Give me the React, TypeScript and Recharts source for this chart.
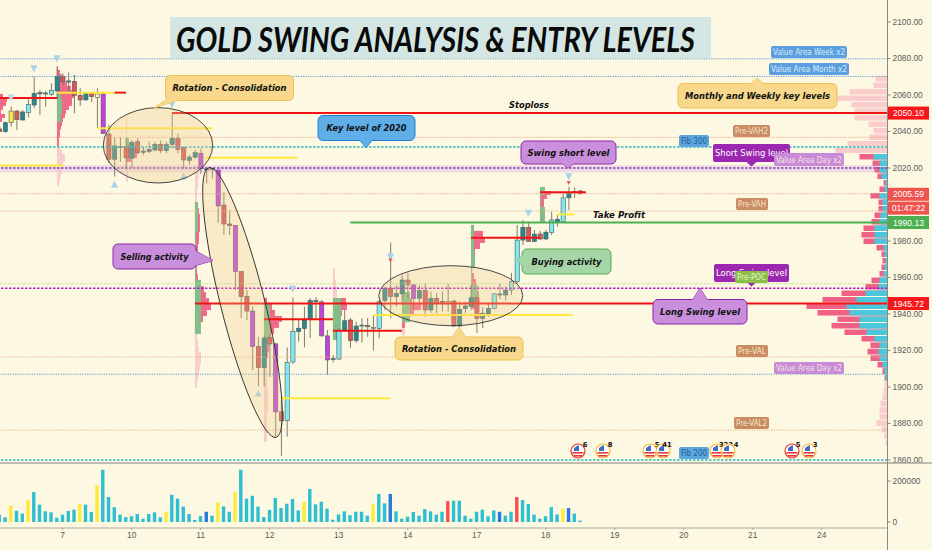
import React from "react";
import { ComposedChart, Bar, XAxis, YAxis, ReferenceLine, ReferenceArea, ReferenceDot } from "recharts";

const W = 932, TOP_H = 463, BOTTOM_H = 87, AXIS_W = 44.5;
const IDX_MIN = -0.904, IDX_MAX = 153.44, PRICE_MIN = 1858.34, PRICE_MAX = 2112.06;
const VOL_MIN = -29268, VOL_MAX = 287800;
const FONT = "'DejaVu Sans', sans-serif";
const AXIS_FONT = "'Liberation Sans', sans-serif";
const UNITS_PER_BAR = 5.75;

const highs = [2043.0,2045.4,2053.6,2051.8,2051.8,2057.6,2070.0,2062.7,2062.2,2066.4,2075.5,2071.9,2072.4,2071.0,2063.7,2061.8,2061.8,2063.7,2061.8,2043.6,2036.8,2036.8,2036.4,2035.3,2036.3,2031.7,2034.4,2034.4,2035.0,2034.4,2050.0,2039.0,2031.7,2027.1,2029.9,2030.8,2019.8,2019.8,2018.9,2006.7,1997.0,1988.8,1963.6,1953.1,1944.4,1927.6,1928.0,1928.5,1924.1,1892.9,1921.7,1949.1,1936.7,1944.0,1948.8,1949.1,1947.7,1931.2,1917.5,1932.2,1942.2,1937.8,1935.8,1937.6,1937.8,1938.9,1947.7,1955.0,1979.1,1955.9,1961.4,1962.5,1956.4,1955.9,1957.0,1952.2,1951.5,1952.2,1956.4,1947.7,1946.7,1946.7,1955.9,1949.5,1943.7,1946.0,1951.3,1956.8,1955.0,1962.5,1988.8,1991.5,1990.6,1986.0,1985.6,1986.0,1996.1,1994.2,2007.0,2009.7,2009.4,2008.0];
const bodyTops = [2041.4,2044.8,2051.2,2051.2,2050.7,2054.7,2060.9,2061.3,2061.1,2062.6,2070.2,2070.2,2067.7,2067.5,2059.8,2060.9,2060.9,2060.6,2060.6,2038.6,2032.1,2031.7,2031.7,2034.1,2034.4,2029.3,2030.2,2033.0,2033.0,2032.8,2036.3,2036.3,2031.3,2026.0,2028.4,2028.1,2019.5,2019.8,2018.9,1999.7,1989.3,1988.4,1963.2,1949.5,1941.6,1922.1,1926.8,1927.0,1923.6,1886.4,1913.5,1930.5,1932.2,1936.7,1947.3,1947.3,1946.6,1928.0,1915.5,1930.8,1936.3,1936.7,1933.4,1933.9,1933.6,1932.7,1946.7,1954.0,1954.1,1951.3,1958.6,1958.6,1955.9,1952.8,1952.8,1948.6,1948.6,1946.8,1946.9,1947.1,1942.6,1944.4,1948.9,1948.9,1940.4,1942.9,1951.0,1951.0,1953.1,1957.7,1980.5,1987.5,1987.5,1983.8,1983.8,1984.8,1991.5,1991.9,2003.6,2006.5,2007.0,2007.4];
const bodyBottoms = [2039.9,2039.9,2045.0,2046.5,2046.3,2050.3,2054.5,2060.6,2060.7,2060.4,2062.2,2067.3,2067.1,2059.8,2057.3,2057.3,2059.1,2058.7,2039.0,2024.8,2024.8,2031.3,2025.6,2025.3,2028.4,2028.6,2029.0,2029.9,2029.5,2029.5,2033.0,2030.2,2024.4,2024.2,2025.9,2019.8,2018.9,2019.1,1999.2,1989.3,1988.4,1963.2,1949.5,1941.6,1922.1,1910.6,1910.6,1923.6,1886.4,1881.4,1881.5,1913.7,1930.3,1932.0,1937.1,1947.0,1928.0,1914.8,1915.1,1915.3,1930.8,1925.4,1925.4,1933.4,1933.0,1932.0,1932.0,1947.3,1949.5,1949.5,1951.0,1955.9,1948.6,1948.6,1942.2,1942.2,1945.9,1946.3,1945.5,1933.4,1933.4,1942.9,1944.0,1937.6,1937.6,1940.0,1942.9,1950.4,1950.4,1953.1,1957.7,1980.5,1979.8,1979.8,1981.1,1981.1,1984.8,1990.4,1990.8,2003.7,2006.7,2005.9];
const lows = [2039.7,2039.3,2042.6,2040.8,2046.0,2047.8,2052.7,2049.0,2053.6,2059.5,2057.7,2065.5,2061.8,2050.0,2054.0,2056.9,2056.0,2041.8,2038.6,2022.6,2015.2,2023.4,2019.3,2020.0,2028.1,2027.1,2028.1,2029.0,2028.1,2028.1,2030.8,2028.1,2019.5,2022.0,2025.3,2016.7,2011.6,2014.4,1989.9,1983.3,1983.3,1953.1,1937.8,1936.7,1909.3,1900.5,1900.2,1905.5,1872.8,1862.2,1872.8,1912.6,1924.8,1921.7,1926.8,1937.6,1927.4,1906.6,1913.5,1914.8,1930.3,1921.4,1924.3,1924.3,1927.6,1919.9,1926.7,1942.2,1937.8,1944.0,1946.7,1948.8,1942.2,1946.0,1938.5,1940.5,1940.5,1941.3,1941.3,1933.0,1933.0,1940.5,1942.2,1929.6,1932.2,1938.5,1942.6,1948.2,1947.3,1950.4,1956.8,1977.8,1979.6,1979.4,1980.5,1980.5,1983.3,1987.8,1990.0,1997.0,2003.7,2005.6];
const candleKinds = [
  "rtyrtcttt", "ctrtrrtrpm", "rttrtrtttrttrrttmtrm", "rrmrrmrtrmrcc",
  "ttttmmtctrttrpc", "trttrmtrtrryrttt", "rttcttcctrtrtctcttr",
].join("");

const volumes = [36,23,80,55,41,109,146,85,52,47,21,36,54,60,89,85,49,179,255,122,72,36,24,28,39,16,39,47,23,50,133,114,75,39,10,29,50,31,96,76,50,148,255,114,128,75,24,59,117,68,89,112,57,99,161,86,99,65,11,37,52,33,50,50,31,86,137,91,137,52,16,26,49,31,63,52,36,50,102,104,104,31,16,50,60,28,57,50,31,50,122,107,88,36,16,28,73,37,65,68,41,7];
const yellowVolumeBars = [2,5,14,17,29,38,41,53,65,98];
const blueVolumeBars = [36,68,87,99];
const redVolumeBars = [78,90];

const dayTicks = [10,22,34,46,58,70,82,94,106,118,130,142];
const dayLabels = ["7","10","11","12","13","14","17","18","19","20","21","24"];
const priceTicks = [1860,1880,1900,1920,1940,1960,1980,2020,2040,2060,2080,2100];
const volumeTicks = [0,200000];

const dottedLevels = [
  { price: 2079.8, color: "#5b9bd5" }, { price: 2070.2, color: "#5b9bd5" },
  { price: 2036.8, color: "#eda58a" }, { price: 2005.9, color: "#eda0a0" },
  { price: 1996.4, color: "#efb080" }, { price: 1956.6, color: "#b5d98a" },
  { price: 1916.4, color: "#efb080" }, { price: 1907.0, color: "#5b9bd5" },
  { price: 1876.4, color: "#efb080" },
];
const dashedLevels = [
  { price: 2031.5, color: "#22b8c4" }, { price: 2020.0, color: "#7e3fb5" },
  { price: 1954.1, color: "#b416c8" }, { price: 1860.0, color: "#22b8c4" },
];
const segments = [
  { from: -0.9, to: 9, price: 2058.4, color: "#f01414" },
  { from: 19, to: 21, price: 2061.3, color: "#f01414" },
  { from: 9, to: 19, price: 2061.3, color: "#ffe93b" },
  { from: 16, to: 36, price: 2041.8, color: "#ffe93b" },
  { from: -0.9, to: 10, price: 2021.3, color: "#ffe93b" },
  { from: 34.8, to: 50.8, price: 2025.6, color: "#ffe93b" },
  { from: 29, to: 153.44, price: 2050.1, color: "#f01414" },
  { from: 33, to: 153.44, price: 1945.72, color: "#f01414" },
  { from: 60, to: 153.44, price: 1990.13, color: "#4caf50" },
  { from: 45, to: 57, price: 1937.1, color: "#f01414" },
  { from: 57, to: 69, price: 1930.8, color: "#f01414" },
  { from: 48, to: 67, price: 1893.8, color: "#ffe93b" },
  { from: 64, to: 98.7, price: 1939.4, color: "#ffe93b" },
  { from: 81, to: 93, price: 1981.8, color: "#f01414" },
  { from: 93, to: 101, price: 2006.7, color: "#f01414" },
  { from: 96, to: 99, price: 1994.6, color: "#ffe93b" },
];
const priceTags = [
  { price: 2050.1, text: "2050.10", tagFill: "#f7161a", tagColor: "#fff" },
  { price: 2005.59, text: "2005.59", tagFill: "#ef5350", tagColor: "#fff" },
  { price: 1998.0, text: "01:47:22", tagFill: "#ef5350", tagColor: "#fff" },
  { price: 1990.13, text: "1990.13", tagFill: "#4caf50", tagColor: "#fff" },
  { price: 1945.72, text: "1945.72", tagFill: "#f7161a", tagColor: "#fff" },
];
const pivots = [
  { bar: 5, price: 2074.3, up: false, color: "#a8d4ea" }, { bar: 9, price: 2079.8, up: false, color: "#a8d4ea" },
  { bar: 1, price: 2058.5, up: false, color: "#bcdcea" }, { bar: 29, price: 2054.6, up: false, color: "#a8d4ea" },
  { bar: 50, price: 1953.7, up: false, color: "#a8d4ea" }, { bar: 67, price: 1971.2, up: false, color: "#a8d4ea" },
  { bar: 67, price: 1969.3, up: false, color: "#ef5350" }, { bar: 91, price: 1995.2, up: false, color: "#a8d4ea" },
  { bar: 98, price: 2015.1, up: false, color: "#a8d4ea" }, { bar: 98, price: 2011.8, up: false, color: "#ef5350" },
  { bar: 19, price: 2011.2, up: true, color: "#a8d4ea" }, { bar: 31, price: 2015.6, up: true, color: "#a8d4ea" },
  { bar: 44, price: 1896.7, up: true, color: "#a8d4ea" }, { bar: 82, price: 1925.7, up: true, color: "#c9c2a8" },
];

const rightProfileTop = 2070.4, rightProfileStep = 3.56;
const rightProfileTotal = [12,14,38,58,36,33,33,19,14,18,40,52,28,15,13,10,4,8,17,9,9,13,16,24,26,24,11,6,5,6,8,16,22,46,65,81,70,50,56,43,26,17,20,17,10,5,3,3,4,5,7,8,8,11,6,3,2];
const rightProfileCyan = [0,0,0,0,0,0,0,0,0,0,0,0,14,8,8,6,2,3,8,5,5,7,8,13,13,13,4,3,2,3,4,8,9,22,31,41,38,28,28,21,13,8,9,8,5,3,2,0,0,0,0,0,0,0,0,0,0];

const profileA = { bar: 9, top: 2075.9, step: 2.19,
  pink: [1,3,5,8,10,14,16,17,15,15,12,9,8,6,5,4,3,3,2,2,0,0,0,0,0,0,0,0,0,0],
  green:[0,0,0,0,0,0,0,4,5,5,5,5,4,4,0,0,0,0,0,0,0,0,0,0,0,0,0,0,0,0],
  pale: [0,0,0,0,0,0,0,0,0,0,0,0,0,0,0,0,0,0,0,0,3,5,8,8,6,5,5,4,3,2] };
const profileB = { bar: -0.9, top: 2060.6, step: 2.19,
  pink: [3,7,6,3,1,5,2], green: [0,0,0,0,0,0,0], pale: [0,0,0,0,0,0,0] };
const profileC = { bar: 21, top: 2049.6, step: 2.19,
  pink: [0,0,0,0,0,0,2,6,10,13,11,5,0,0,0,0,0],
  green:[0,0,0,0,0,0,3,4,2,0,0,0,0,0,0,0,0],
  pale: [1,1,1,1,1,1,0,0,0,0,0,0,2,2,2,2,2] };
const profileD = { bar: 33, top: 2021.1, step: 3.29,
  pink: [0,0,0,0,0,0,3,4,5,5,5,4,4,3,3,2,2,2,3,6,9,11,14,16,12,8,5,3,0,0,0,0,0,0,0,0,0],
  green:[0,0,0,0,0,0,3,3,3,3,3,1,1,1,1,1,1,1,1,6,6,6,6,6,6,6,6,6,0,0,0,0,0,0,0,0,0],
  pale: [3,4,3,3,2,2,0,0,0,0,0,0,0,0,0,0,0,0,0,0,0,0,0,0,0,0,0,0,2,3,4,6,6,5,4,3,2] };
const profileE = { bar: 45, top: 1948.8, step: 3.29,
  pink: [3,8,11,18,15,10,7,5,5,4,2,0,0,0,0,0,0,0,0,0,0,0,0,0],
  green:[0,6,6,6,6,6,6,6,0,0,0,0,0,0,0,0,0,0,0,0,0,0,0,0],
  pale: [0,0,0,0,0,0,0,0,0,0,0,3,3,3,3,4,4,4,4,3,3,3,3,3] };
const profileF = { bar: 57, top: 1965.2, step: 3.29,
  pink: [0,0,0,0,0,13,14,9,7,6,5,4], green: [0,0,0,0,0,8,8,8,8,8,8,8], pale: [2,2,3,4,4,0,0,0,0,0,0,0] };
const profileG = { bar: 69, top: 1955.3, step: 3.29,
  pink: [0,4,10,19,12,8,3,0,0], green: [0,8,8,8,8,8,0,0,0], pale: [3,0,0,0,0,0,0,3,2] };
const profileH = { bar: 81, top: 1988.8, step: 3.29,
  pink: [3,12,14,9,4,0,0,0,3,5,5,8,8,4], green: [3,3,3,3,3,4,4,1,1,1,7,7,7,1], pale: [0,0,0,0,0,2,2,2,0,0,0,0,0,0] };
const profileI = { bar: 93, top: 2009.6, step: 2.19,
  pink: [3,11,7,4,4,3,3,4,4], green: [5,5,1,1,1,5,5,5,5], pale: [0,0,0,0,0,0,0,0,0] };
const sessionProfiles = [profileA, profileB, profileC, profileD, profileE, profileF, profileG, profileH, profileI];

const eventIcons = [
  { x: 578, ring: "#e53935", count: "6", cx: 585 }, { x: 603, ring: "#f5b82e", count: "8", cx: 610 },
  { x: 650, ring: "#f5b82e", count: "5", cx: 657 }, { x: 663, ring: "#f5b82e", count: "41", cx: 667 },
  { x: 717, ring: "#f5b82e", count: "333", cx: 726 }, { x: 728, ring: "#f5b82e", count: "4", cx: 736 },
  { x: 792, ring: "#e53935", count: "5", cx: 798 }, { x: 809, ring: "#f5b82e", count: "3", cx: 815 },
];

const KIND_FILL: Record<string, string> = { r: "#dc5552", t: "#27878f", c: "#7feaf3", m: "#c63fe0", y: "#ffe93b", p: "#f7eec4" };

const candles = highs.map((high, k) => ({
  bar: k - 1, range: [lows[k], high], top: bodyTops[k], bottom: bodyBottoms[k], kind: candleKinds[k],
}));
const volumeRows = volumes.map((v, k) => ({
  bar: k - 1, volume: v * 1000,
  fill: yellowVolumeBars.includes(k) ? "#ffe93b" : blueVolumeBars.includes(k) ? "#2a79e0" : redVolumeBars.includes(k) ? "#f4514f" : "#2fbfd3",
}));

function CandleShape(props: any) {
  const { x, y, width, height, payload } = props;
  const span = payload.range[1] - payload.range[0];
  const ppu = height / span;
  const yTop = y + (payload.range[1] - payload.top) * ppu;
  const yBot = y + (payload.range[1] - payload.bottom) * ppu;
  const cx = x + width / 2;
  return (
    <g>
      <line x1={cx} x2={cx} y1={y} y2={y + height} stroke="#6e6e60" strokeWidth={0.9} />
      <rect x={x} y={yTop} width={width} height={Math.max(yBot - yTop, 0.9)} fill={KIND_FILL[payload.kind]} stroke="#4f5a5a" strokeWidth={0.6} />
    </g>
  );
}

function VolumeShape(props: any) {
  const { x, y, width, height, payload } = props;
  return <rect x={x} y={y} width={width} height={height} fill={payload.fill} />;
}

function Tag(props: any) {
  const { cx, cy, text, tagFill, tagColor } = props;
  return (
    <g>
      <rect x={cx + 0.5} y={cy - 6.5} width={41} height={13} fill={tagFill} />
      <text x={cx + 21} y={cy + 3} textAnchor="middle" fontFamily={AXIS_FONT} fontSize={8.6} fill={tagColor}>{text}</text>
    </g>
  );
}

function Pivot(props: any) {
  const { cx, cy, up, pivotColor } = props;
  const s = pivotColor === "#ef5350" ? 2 : 3.6;
  const pts = up ? `${cx - s},${cy + s} ${cx + s},${cy + s} ${cx},${cy - s}` : `${cx - s},${cy - s} ${cx + s},${cy - s} ${cx},${cy + s}`;
  return <polygon points={pts} fill={pivotColor} />;
}

function profileRects(p: any, pi: number) {
  const out: any[] = [];
  p.pink.forEach((_: number, k: number) => {
    const y1 = p.top - k * p.step, y2 = y1 - p.step;
    const x1 = Math.max(p.bar, IDX_MIN);
    if (p.pale[k]) out.push(<ReferenceArea key={`pl${pi}-${k}`} x1={x1} x2={x1 + p.pale[k] / UNITS_PER_BAR} y1={y1} y2={y2} fill="#f7c6c9" fillOpacity={0.85} stroke="none" ifOverflow="hidden" />);
    if (p.pink[k]) out.push(<ReferenceArea key={`pk${pi}-${k}`} x1={x1} x2={x1 + p.pink[k] / UNITS_PER_BAR} y1={y1} y2={y2} fill="#ee6a88" fillOpacity={1} stroke="none" ifOverflow="hidden" />);
    if (p.green[k]) out.push(<ReferenceArea key={`gr${pi}-${k}`} x1={x1} x2={x1 + p.green[k] / UNITS_PER_BAR} y1={y1} y2={y2} fill="#82bf88" fillOpacity={1} stroke="none" ifOverflow="hidden" />);
  });
  return out;
}

function rightProfile() {
  const out: any[] = [];
  rightProfileTotal.forEach((total, k) => {
    const y1 = rightProfileTop - k * rightProfileStep, y2 = y1 - rightProfileStep * 0.86;
    const cyan = rightProfileCyan[k];
    out.push(<ReferenceArea key={`rp${k}`} x1={IDX_MAX - total / UNITS_PER_BAR} x2={IDX_MAX} y1={y1} y2={y2} fill={cyan ? "#ef6285" : "#f9c6c9"} fillOpacity={cyan ? 1 : 0.9} stroke="none" ifOverflow="hidden" />);
    if (cyan) out.push(<ReferenceArea key={`rc${k}`} x1={IDX_MAX - cyan / UNITS_PER_BAR} x2={IDX_MAX} y1={y1} y2={y2} fill="#4cc6da" fillOpacity={1} stroke="none" ifOverflow="hidden" />);
  });
  return out;
}

function Callout({ x, y, w, h, tail, fill, stroke, text, tw }: any) {
  return (
    <g>
      <polygon points={tail} fill={fill} stroke={stroke} strokeWidth={1} />
      <rect x={x} y={y} width={w} height={h} rx={5} fill={fill} stroke={stroke} strokeWidth={1} />
      <polygon points={tail} fill={fill} stroke="none" />
      <text x={x + w / 2} y={y + h / 2 + 3.2} textAnchor="middle" fontFamily={FONT} fontWeight={700} fontStyle="italic" fontSize={9} fill="#111" textLength={tw} lengthAdjust="spacingAndGlyphs">{text}</text>
    </g>
  );
}

function Label({ x, y, w, h, fill, color, text, pointer }: any) {
  return (
    <g>
      {pointer && <polygon points={`${x + w / 2 - 5},${y + h} ${x + w / 2 + 5},${y + h} ${x + w / 2},${y + h + 4.5}`} fill={fill} />}
      <rect x={x} y={y} width={w} height={h} rx={2} fill={fill} />
      <text x={x + w / 2} y={y + h / 2 + 3} textAnchor="middle" fontFamily={FONT} fontSize={8} fill={color} textLength={w - 4} lengthAdjust="spacingAndGlyphs">{text}</text>
    </g>
  );
}

function EventIcon({ x, ring, count, cx }: any) {
  return (
    <g>
      <circle cx={x} cy={451} r={7} fill="#fff" stroke={ring} strokeWidth={1.2} />
      <rect x={x - 5.5} y={452} width={11} height={1.6} fill="#e53935" />
      <rect x={x - 4.5} y={455} width={9} height={1.6} fill="#e53935" />
      <path d={`M${x - 4} 451 v-3 l3.5 -2.5 l1.5 0 v5.5 z`} fill="#3f6cc4" />
      <text x={cx} y={447} textAnchor="middle" fontFamily={FONT} fontWeight={700} fontSize={6.8} fill="#111">{count}</text>
    </g>
  );
}

function Annotations() {
  return (
    <svg width={W} height={550} style={{ position: "absolute", left: 0, top: 0, pointerEvents: "none" }}>
      <rect x={170} y={17} width={541} height={41} fill="#d3e6e3" />
      <text x={176} y={52} fontFamily="Lato, sans-serif" fontWeight={700} fontStyle="italic" fontSize={34} fill="#0a0a0a" textLength={519} lengthAdjust="spacingAndGlyphs">GOLD SWING ANALYSIS &amp; ENTRY LEVELS</text>

      <ellipse cx={158} cy={145.3} rx={54.7} ry={37.7} fill="#f1c98a" fillOpacity={0.32} stroke="#333" strokeWidth={0.9} />
      <ellipse cx={242.5} cy={302.5} rx={22} ry={139} transform="rotate(-14 242.5 302.5)" fill="#f1c98a" fillOpacity={0.28} stroke="#333" strokeWidth={0.9} />
      <ellipse cx={450.8} cy={295.7} rx={72} ry={30} fill="#f1c98a" fillOpacity={0.3} stroke="#333" strokeWidth={0.9} />

      <Label x={771} y={46} w={76} h={12} fill="#5b9fe0" color="#d6ecf5" text="Value Area Week x2" />
      <Label x={769} y={63} w={80} h={12} fill="#5b9fe0" color="#d6ecf5" text="Value Area Month x2" />
      <Label x={733} y={125} w={37} h={12} fill="#c98c63" color="#f7e6c8" text="Pre-VAH2" />
      <Label x={679} y={135} w={30} h={12} fill="#5da5dc" color="#1f5f96" text="Fib 300" />
      <Label x={713} y={144} w={77} h={18} fill="#9c27b0" color="#fff" text="Short Swing level" pointer />
      <Label x={774} y={153} w={70} h={13} fill="#c98bd8" color="#f3e3d8" text="Value Area Day x2" />
      <Label x={736} y={198} w={32} h={12} fill="#c98c63" color="#f7e6c8" text="Pre-VAH" />
      <Label x={714} y={264} w={75} h={18} fill="#9c27b0" color="#fff" text="Long Swing level" pointer />
      <Label x={735} y={271} w={33} h={12} fill="#8cbf4a" color="#e8f3c8" text="Pre-POC" />
      <Label x={736} y={345} w={32} h={12} fill="#c98c63" color="#f7e6c8" text="Pre-VAL" />
      <Label x={774} y={362} w={70} h={12} fill="#c98bd8" color="#f3e3d8" text="Value Area Day x2" />
      <Label x={734} y={417} w={35} h={12} fill="#c98c63" color="#f7e6c8" text="Pre-VAL2" />
      <Label x={679} y={447} w={30} h={12} fill="#5da5dc" color="#1f5f96" text="Fib 200" />

      <Callout x={165.5} y={75.5} w={128} h={25} tail="154,108 170,97 188,97" fill="#f7d88c" stroke="#f0bf4e" text="Rotation - Consolidation" tw={114} />
      <Callout x={318} y={115.5} w={97} h={25} tail="358,138 374,138 366,148" fill="#5faee8" stroke="#1e7fd4" text="Key level of 2020" tw={80} />
      <Callout x={521} y={141} w={95} h={23} tail="560,162 576,162 568,168" fill="#c98fdc" stroke="#8e24aa" text="Swing short level" tw={82} />
      <Callout x={113} y={244} w={83} h={25} tail="194,250 194,266 213,260.5" fill="#c98fdc" stroke="#8e24aa" text="Selling activity" tw={68} />
      <Callout x={522} y={249} w={89} h={25} tail="524,254 524,268 517.5,260" fill="#a6d6a8" stroke="#4caf50" text="Buying activity" tw={70} />
      <Callout x={395} y={337} w={128} h={23} tail="451,339 467,339 459,327" fill="#f7d88c" stroke="#f0bf4e" text="Rotation - Consolidation" tw={114} />
      <Callout x={653} y={299.5} w={94} h={24.5} tail="692,301 708,301 700,288" fill="#c98fdc" stroke="#8e24aa" text="Long Swing level" tw={80} />
      <Callout x={678} y={83.5} w={159} h={24.5} tail="749,85 765,85 757,78" fill="#f7d88c" stroke="#f0bf4e" text="Monthly and Weekly key levels" tw={145} />

      <text x={509} y={107.5} fontFamily={FONT} fontWeight={700} fontStyle="italic" fontSize={8.5} fill="#111" textLength={40} lengthAdjust="spacingAndGlyphs">Stoploss</text>
      <text x={593} y={218} fontFamily={FONT} fontWeight={700} fontStyle="italic" fontSize={8.5} fill="#111" textLength={52} lengthAdjust="spacingAndGlyphs">Take Profit</text>

      {eventIcons.map((e, k) => <EventIcon key={k} {...e} />)}
      <line x1={0} x2={W} y1={463} y2={463} stroke="#a8a89c" strokeWidth={1.6} />
      <line x1={887.5} x2={887.5} y1={0} y2={550} stroke="#8a8a84" strokeWidth={1} />
    </svg>
  );
}

const tickStyle = { fontFamily: AXIS_FONT, fontSize: 8.4, fill: "#5c5c5c" };

export default function App() {
  return (
    <div style={{ position: "absolute", left: 0, top: 0, width: W, height: 550, background: "#fdf8e1", overflow: "hidden" }}>
      <ComposedChart width={W} height={TOP_H} data={candles} margin={{ top: 0, right: 0, bottom: 0, left: 0 }} barGap={0}>
        <XAxis dataKey="bar" type="number" domain={[IDX_MIN, IDX_MAX]} allowDataOverflow hide />
        <YAxis orientation="right" width={AXIS_W} domain={[PRICE_MIN, PRICE_MAX]} ticks={priceTicks} allowDataOverflow
          tick={tickStyle} tickFormatter={(v: number) => v.toFixed(2)} stroke="#8a8a84" tickSize={3} interval={0} />
        <ReferenceArea y1={2021.5} y2={2017.5} fill="#e9cfe6" fillOpacity={0.7} stroke="none" />
        {sessionProfiles.map(profileRects)}
        {rightProfile()}
        {dottedLevels.map((l) => <ReferenceLine key={l.price} y={l.price} stroke={l.color} strokeDasharray="1.2 1.2" strokeWidth={1} />)}
        {dashedLevels.map((l) => <ReferenceLine key={l.price} y={l.price} stroke={l.color} strokeDasharray="2.4 1.6" strokeWidth={1.5} />)}
        {segments.map((s, k) => (
          <ReferenceLine key={k} segment={[{ x: s.from, y: s.price }, { x: s.to, y: s.price }]} stroke={s.color} strokeWidth={2} ifOverflow="hidden" />
        ))}
        <Bar dataKey="range" barSize={4.2} shape={<CandleShape />} isAnimationActive={false} />
        {pivots.map((p, k) => (
          <ReferenceDot key={k} x={p.bar} y={p.price} r={3} shape={<Pivot up={p.up} pivotColor={p.color} />} />
        ))}
        {priceTags.map((t) => (
          <ReferenceDot key={t.text} x={IDX_MAX} y={t.price} r={1} ifOverflow="visible" shape={<Tag text={t.text} tagFill={t.tagFill} tagColor={t.tagColor} />} />
        ))}
      </ComposedChart>
      <ComposedChart width={W} height={BOTTOM_H} data={volumeRows} margin={{ top: 0, right: 0, bottom: 0, left: 0 }}>
        <XAxis dataKey="bar" type="number" domain={[IDX_MIN, IDX_MAX]} allowDataOverflow ticks={dayTicks} interval={0} height={22}
          tick={tickStyle} tickFormatter={(v: number) => dayLabels[dayTicks.indexOf(v)]} stroke="#a8a89c" tickSize={2} />
        <YAxis orientation="right" width={AXIS_W} domain={[VOL_MIN, VOL_MAX]} ticks={volumeTicks} allowDataOverflow
          tick={tickStyle} stroke="#8a8a84" tickSize={3} interval={0} />
        <Bar dataKey="volume" barSize={3.4} shape={<VolumeShape />} isAnimationActive={false} />
      </ComposedChart>
      <Annotations />
    </div>
  );
}
